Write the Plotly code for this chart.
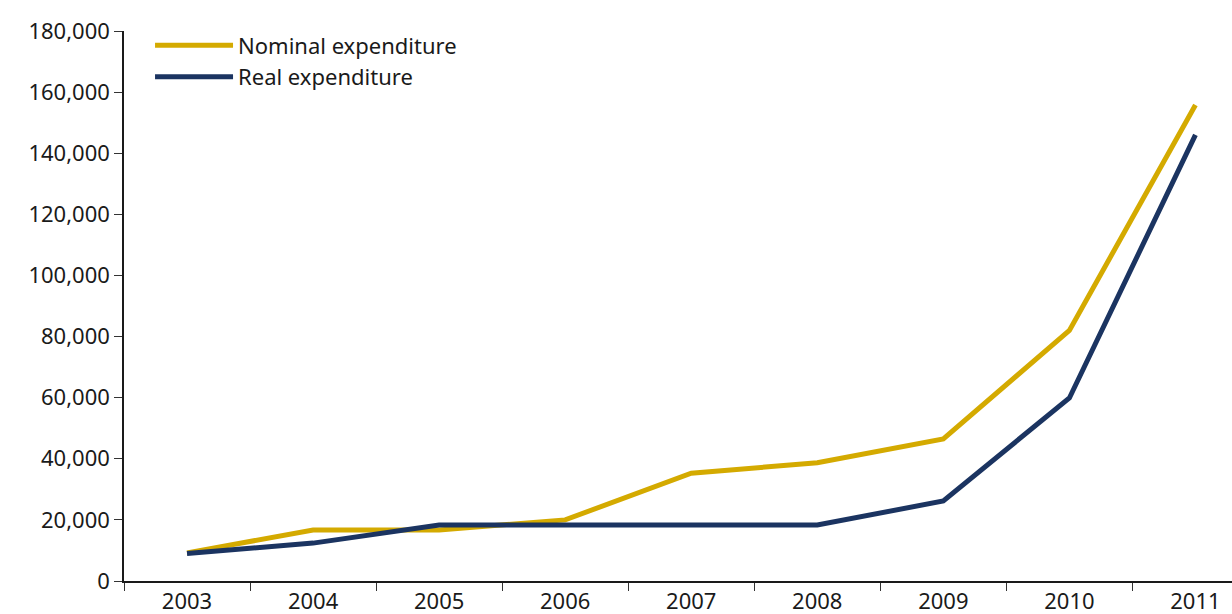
import plotly.graph_objects as go

years = ["2003", "2004", "2005", "2006", "2007", "2008", "2009", "2010", "2011"]
nominal = [9200, 16700, 16700, 20000, 35300, 38700, 46500, 82000, 155800]
real = [9000, 12400, 18300, 18300, 18300, 18300, 26200, 59900, 146000]

GOLD = "#D4AA00"
NAVY = "#1B3461"
FONT = "Noto Sans"

fig = go.Figure()
fig.add_trace(go.Scatter(x=years, y=nominal, mode="lines", name="Nominal expenditure",
                         line=dict(color=GOLD, width=5)))
fig.add_trace(go.Scatter(x=years, y=real, mode="lines", name="Real expenditure",
                         line=dict(color=NAVY, width=5)))

fig.update_layout(
    width=1232, height=614,
    margin=dict(l=124, r=0, t=31, b=33),
    paper_bgcolor="white", plot_bgcolor="white",
    font=dict(family=FONT, size=22, color="#1a1a1a"),
    showlegend=True,
    legend=dict(x=0.0235, y=1.012, xanchor="left", yanchor="top",
                bgcolor="rgba(0,0,0,0)", itemwidth=78,
                font=dict(size=22), tracegroupgap=0),
)
fig.update_xaxes(
    type="category", range=[-0.5, 8.29], tickson="boundaries",
    ticks="outside", ticklen=8, tickcolor="#333", tickwidth=1,
    showline=True, linecolor="#1a1a1a", linewidth=1.5,
    showgrid=False, zeroline=False, automargin=False,
)
fig.update_yaxes(
    range=[0, 180000], dtick=20000, tickformat=",d",
    ticks="outside", ticklen=8, tickcolor="#333", tickwidth=1,
    showline=True, linecolor="#1a1a1a", linewidth=1.5,
    showgrid=False, zeroline=False, automargin=False,
)

# the default page adds an 8px body margin; drop it so the figure fills the window
fig.write_html("out.html", config={"displayModeBar": False},
               post_script="document.body.style.margin='0';")
